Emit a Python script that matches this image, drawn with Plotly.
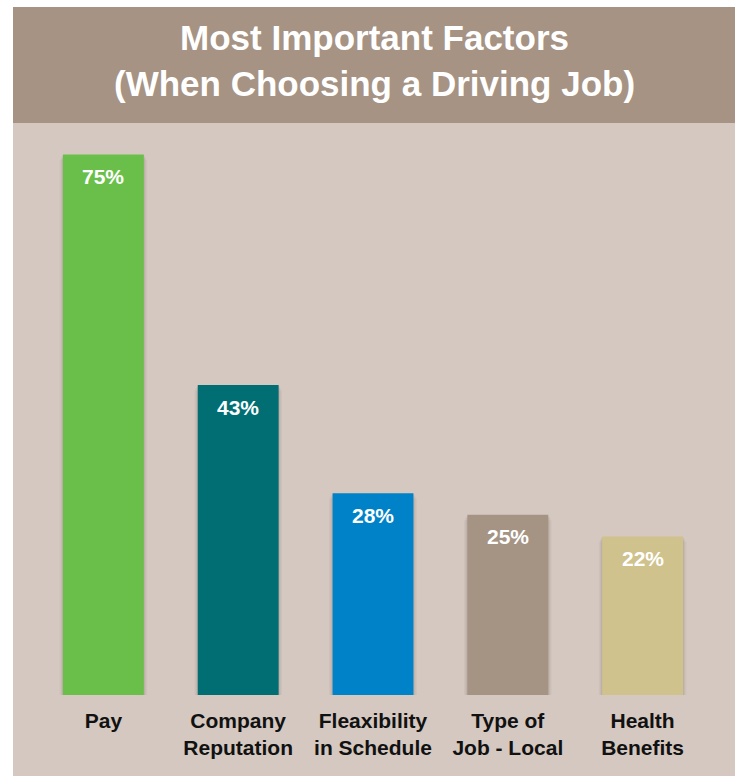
import plotly.graph_objects as go

# Survey results: share of drivers naming each factor
categories = ["Pay", "Company<br>Reputation", "Fleaxibility<br>in Schedule",
              "Type of<br>Job - Local", "Health<br>Benefits"]
values = [75, 43, 28, 25, 22]
bar_colors = ["#6abf4b", "#006e73", "#0082c8", "#a59484", "#cfc28d"]

W, H = 735, 776
M_L, M_R, M_T, M_B = 36, 25, 140, 81
Y_MAX = 77
PANEL = "#d4c8c0"
BAND = "#a69383"

plot_w = W - M_L - M_R
plot_h = H - M_T - M_B


def px_x(p):
    return (p - M_L) / plot_w


def px_y(p):
    return (H - M_B - p) / plot_h


fig = go.Figure()

# soft drop shadow behind each bar
for grow, drop, alpha in [(0.05, 0.9, 0.035), (0.03, 0.6, 0.05), (0.015, 0.35, 0.07)]:
    fig.add_trace(go.Bar(
        x=categories,
        y=[v + 0.15 for v in values],
        base=-drop,
        width=0.6 + grow,
        marker=dict(color=f"rgba(60,40,30,{alpha})", line=dict(width=0)),
        hoverinfo="skip",
        showlegend=False,
    ))

fig.add_trace(go.Bar(
    x=categories,
    y=values,
    width=0.6,
    marker=dict(color=bar_colors, line=dict(width=0)),
    showlegend=False,
))

for c, v in zip(categories, values):
    fig.add_annotation(
        x=c, y=v, text=f"<b>{v}%</b>", showarrow=False,
        yanchor="middle", yshift=-22,
        font=dict(family="Liberation Sans, Arial, sans-serif", size=21, color="white"),
    )

# background panel and header band
fig.add_shape(type="rect", xref="paper", yref="paper",
              x0=px_x(13), x1=px_x(W + 5), y0=px_y(H + 5), y1=px_y(7),
              fillcolor=PANEL, line=dict(width=0), layer="below")
fig.add_shape(type="rect", xref="paper", yref="paper",
              x0=px_x(13), x1=px_x(W + 5), y0=px_y(123), y1=px_y(7),
              fillcolor=BAND, line=dict(width=0), layer="below")

fig.add_annotation(
    xref="paper", yref="paper", x=px_x((13 + W) / 2), y=px_y(61),
    text="<b>Most Important Factors<br>(When Choosing a Driving Job)</b>",
    showarrow=False, xanchor="center", yanchor="middle",
    font=dict(family="Liberation Sans, Arial, sans-serif", size=35, color="white"),
    align="center",
)

fig.update_layout(
    width=W, height=H,
    margin=dict(l=M_L, r=M_R, t=M_T, b=M_B),
    paper_bgcolor="white",
    plot_bgcolor="rgba(0,0,0,0)",
    barmode="overlay",
    xaxis=dict(
        tickfont=dict(family="Liberation Sans, Arial, sans-serif",
                      size=21, color="#111111"),
        showgrid=False, zeroline=False, showline=False, ticks="",
        range=[-0.5, 4.5],
        ticklabelstandoff=11,
    ),
    yaxis=dict(range=[0, Y_MAX], visible=False, showgrid=False, zeroline=False),
)

fig.update_xaxes(tickvals=categories, ticktext=[f"<b>{c}</b>" for c in categories])

fig.write_html("out.html")
